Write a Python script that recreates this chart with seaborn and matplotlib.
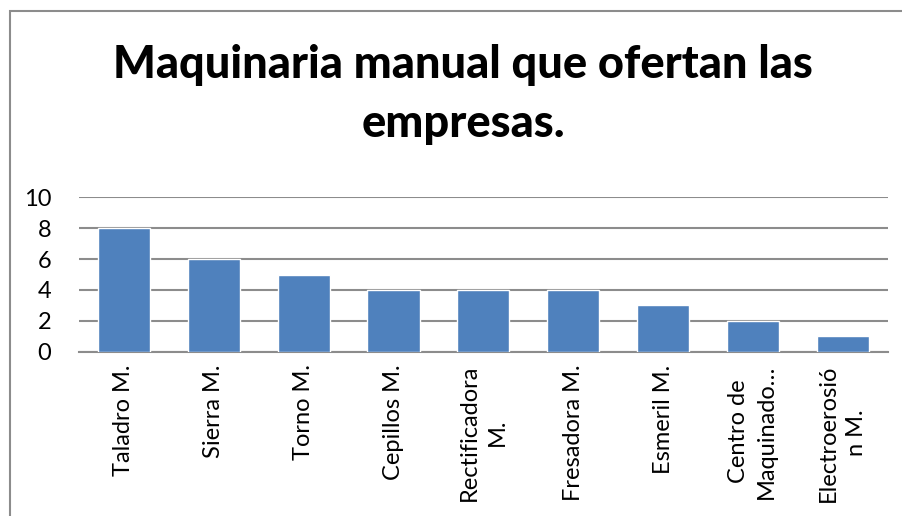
import matplotlib
matplotlib.use('Agg')
import matplotlib.pyplot as plt
import matplotlib.patches as patches
import seaborn as sns
import pandas as pd

categories = ['Taladro M.', 'Sierra M.', 'Torno M.', 'Cepillos M.',
              'Rectificadora\nM.', 'Fresadora M.', 'Esmeril M.',
              'Centro de\nMaquinado…', 'Electroerosió\nn M.']
values = [8, 6, 5, 4, 4, 4, 3, 2, 1]
title = 'Maquinaria manual que ofertan las\nempresas.'

sns.set_theme(style='white')
plt.rcParams['font.family'] = ['Lato', 'DejaVu Sans']

df = pd.DataFrame({'cat': categories, 'val': values})

fig = plt.figure(figsize=(9.03, 5.16), dpi=100)
ax = fig.add_axes([0.0875, 0.318, 0.8955, 0.3])

sns.barplot(data=df, x='cat', y='val', color='#4F81BD', saturation=1,
            width=0.58, ax=ax, zorder=3)

ax.set_ylim(0, 10)
ax.set_yticks([0, 2, 4, 6, 8, 10])
ax.set_xlim(-0.5, len(categories) - 0.5)
ax.yaxis.grid(True, color='#8c8c8c', linewidth=1.5, zorder=0)
ax.set_axisbelow(True)
for s in ['top', 'right', 'left']:
    ax.spines[s].set_visible(False)
ax.spines['bottom'].set_color('#8c8c8c')
ax.spines['bottom'].set_linewidth(1.5)
ax.set_xlabel('')
ax.set_ylabel('')
ax.tick_params(axis='y', labelsize=17, pad=20, length=0, colors='black')
ax.tick_params(axis='x', labelsize=17, pad=9, length=0, colors='black')
for lbl in ax.get_yticklabels():
    lbl.set_horizontalalignment('right')
for lbl in ax.get_xticklabels():
    lbl.set_rotation(90)
    lbl.set_verticalalignment('top')
    lbl.set_horizontalalignment('center')
    lbl.set_multialignment('center')
    lbl.set_linespacing(1.4)

fig.text(0.513, 0.817, title, ha='center', va='center', fontsize=32.5,
         fontweight='black', linespacing=1.5, color='black')

frame = patches.Rectangle((10 / 903, -0.1), 1.2, 1.1 - 11 / 516,
                          transform=fig.transFigure, fill=False,
                          edgecolor='#8c8c8c', linewidth=1.5, clip_on=False)
fig.patches.append(frame)

fig.savefig('out.png', dpi=100)
